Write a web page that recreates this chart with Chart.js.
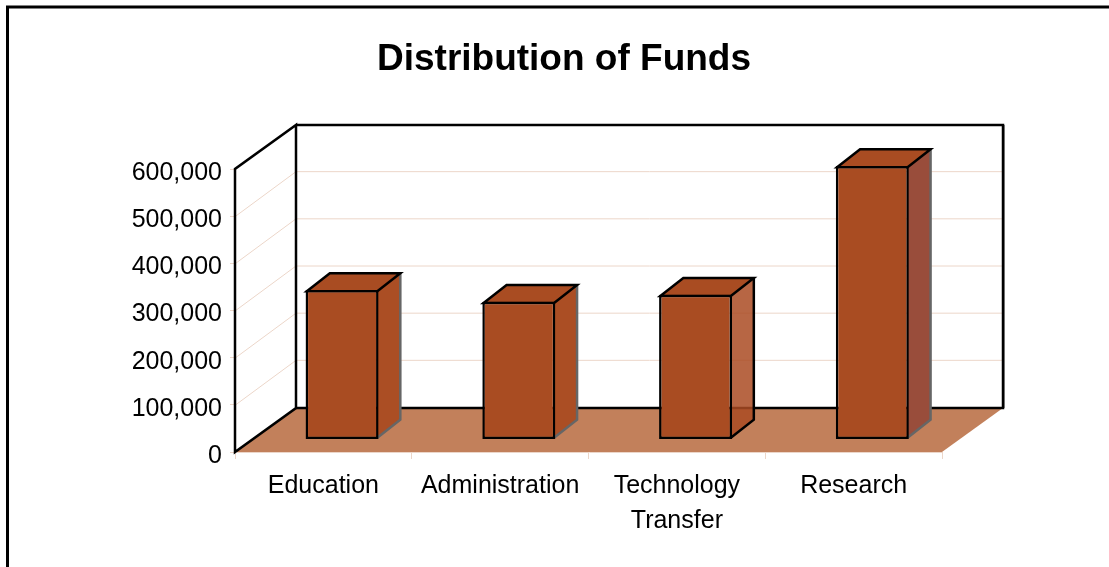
<!DOCTYPE html>
<html><head><meta charset="utf-8">
<style>html,body{margin:0;padding:0;background:#fff}canvas{display:block}</style>
<script src="https://cdn.jsdelivr.net/npm/chart.js@4"></script>
</head><body><canvas id="c" width="1109" height="567"></canvas>
<script>
const categories = ['Education','Administration',['Technology','Transfer'],'Research'];
const funds = [317000, 292000, 307000, 580000];
const sideColors = ['#ab4e24','#ab4e24','rgba(170,75,35,0.85)','#994d3b'];
const sideEdges = ['#666','#666','#000','#666'];
const yTicks = [0,100000,200000,300000,400000,500000,600000];

const DX = 61, DY = -44;         // full depth of the floor
const GRID_DY = -45;             // depth rise of the gridlines
const BAR_NEAR = [18.7, -12.5];  // where the bar front sits in the depth
const BAR_DEPTH = [23, -18];     // depth of a bar
const LINE = 2.5;
const FRONT = '#a94c22', FLOOR = '#c2805b', GRID = '#ecd6c9';

const stage3d = {
  id: 'stage3d',
  afterLayout(chart) { chart.titleBlock.left = 186; },
  beforeDatasetsDraw(chart) {
    const {ctx, chartArea: a, scales: {y}} = chart;
    ctx.save();
    // outer frame
    ctx.strokeStyle = '#000'; ctx.lineWidth = 3;
    ctx.beginPath(); ctx.moveTo(7.5, 567); ctx.lineTo(7.5, 7); ctx.lineTo(1109, 7); ctx.stroke();
    // floor
    ctx.fillStyle = FLOOR;
    ctx.beginPath();
    ctx.moveTo(a.left, a.bottom); ctx.lineTo(a.right, a.bottom);
    ctx.lineTo(a.right + DX, a.bottom + DY); ctx.lineTo(a.left + DX, a.bottom + DY);
    ctx.closePath(); ctx.fill();
    // grid on the side and back walls
    ctx.strokeStyle = GRID; ctx.lineWidth = 1;
    yTicks.forEach(v => {
      if (v === 0 || v === 600000) return;
      const py = y.getPixelForValue(v);
      ctx.beginPath();
      ctx.moveTo(a.left, py + .5); ctx.lineTo(a.left + DX, py + GRID_DY + .5);
      ctx.lineTo(a.right + DX, py + GRID_DY + .5);
      ctx.stroke();
    });
    // walls
    ctx.strokeStyle = '#999'; ctx.lineWidth = 2;
    ctx.beginPath();
    ctx.moveTo(a.right + DX + 1, a.top + DY); ctx.lineTo(a.right + DX + 1, a.bottom + DY); ctx.stroke();
    ctx.lineWidth = LINE; ctx.strokeStyle = '#000'; ctx.lineJoin = 'miter';
    ctx.beginPath();
    ctx.moveTo(a.left, a.bottom); ctx.lineTo(a.left, a.top);
    ctx.lineTo(a.left + DX, a.top + DY); ctx.lineTo(a.left + DX, a.bottom + DY);
    ctx.closePath(); ctx.stroke();
    ctx.beginPath();
    ctx.moveTo(a.left + DX, a.bottom + DY); ctx.lineTo(a.right + DX, a.bottom + DY);
    ctx.lineTo(a.right + DX, a.top + DY); ctx.lineTo(a.left + DX, a.top + DY);
    ctx.stroke();
    // floor front edge
    ctx.strokeStyle = GRID; ctx.lineWidth = 1;
    ctx.beginPath(); ctx.moveTo(a.left + 2, a.bottom + .5); ctx.lineTo(a.right, a.bottom + .5); ctx.stroke();
    // side and top faces of each bar
    chart.getDatasetMeta(0).data.forEach((bar, i) => {
      const {x, y: top, base, width} = bar.getProps(['x','y','base','width'], true);
      const l = x - width / 2 + BAR_NEAR[0] + LINE / 2, r = x + width / 2 + BAR_NEAR[0] - LINE / 2;
      const t = top + BAR_NEAR[1] + LINE / 2, b = base + BAR_NEAR[1] - LINE / 2;
      const [dx, dy] = BAR_DEPTH;
      ctx.fillStyle = sideColors[i];
      ctx.beginPath();
      ctx.moveTo(r, t); ctx.lineTo(r + dx, t + dy); ctx.lineTo(r + dx, b + dy); ctx.lineTo(r, b);
      ctx.closePath(); ctx.fill();
      ctx.strokeStyle = sideEdges[i]; ctx.lineWidth = LINE;
      ctx.beginPath(); ctx.moveTo(r + dx, t + dy); ctx.lineTo(r + dx, b + dy); ctx.lineTo(r, b); ctx.stroke();
      ctx.fillStyle = FRONT; ctx.strokeStyle = '#000'; ctx.lineWidth = LINE;
      ctx.beginPath();
      ctx.moveTo(l, t); ctx.lineTo(l + dx, t + dy); ctx.lineTo(r + dx, t + dy); ctx.lineTo(r, t);
      ctx.closePath(); ctx.fill(); ctx.stroke();
    });
    ctx.restore();
  },
  beforeDatasetDraw(chart) {
    chart.ctx.save();
    chart.ctx.translate(BAR_NEAR[0], BAR_NEAR[1]);
  },
  afterDatasetDraw(chart) { chart.ctx.restore(); }
};

new Chart(document.getElementById('c'), {
  type: 'bar',
  data: { labels: categories, datasets: [{
    data: funds, backgroundColor: FRONT, borderColor: '#000', borderWidth: LINE, borderSkipped: false,
    categoryPercentage: 1, barPercentage: 0.413, clip: false
  }]},
  plugins: [stage3d],
  options: {
    responsive: false, animation: false,
    events: [],
    layout: { padding: { left: 120, right: 167, top: 0, bottom: 0 } },
    plugins: {
      legend: { display: false }, tooltip: { enabled: false },
      title: { display: true, text: 'Distribution of Funds', color: '#000',
        font: { family: '"Liberation Sans"', size: 37, weight: 'bold', lineHeight: 1.2 },
        padding: { top: 38, bottom: 86.6 } }
    },
    scales: {
      x: {
        afterFit(s) { s.height = 115; },
        border: { display: false },
        grid: { drawOnChartArea: false, color: GRID, tickLength: 7 },
        ticks: { autoSkip: false, maxRotation: 0, color: '#000', padding: 10,
          font: { family: '"Liberation Sans"', size: 25, lineHeight: 1.4 } }
      },
      y: {
        min: 0, max: 600000,
        afterFit(s) { s.width = 115; },
        afterBuildTicks(s) { s.ticks = yTicks.map(value => ({ value })); },
        border: { display: false },
        grid: { drawOnChartArea: false, color: GRID, tickLength: 5 },
        ticks: { color: '#000', padding: 8, labelOffset: 4, callback: v => v.toLocaleString('en-US'),
          font: { family: '"Liberation Sans"', size: 25 } }
      }
    }
  }
});
</script></body></html>
